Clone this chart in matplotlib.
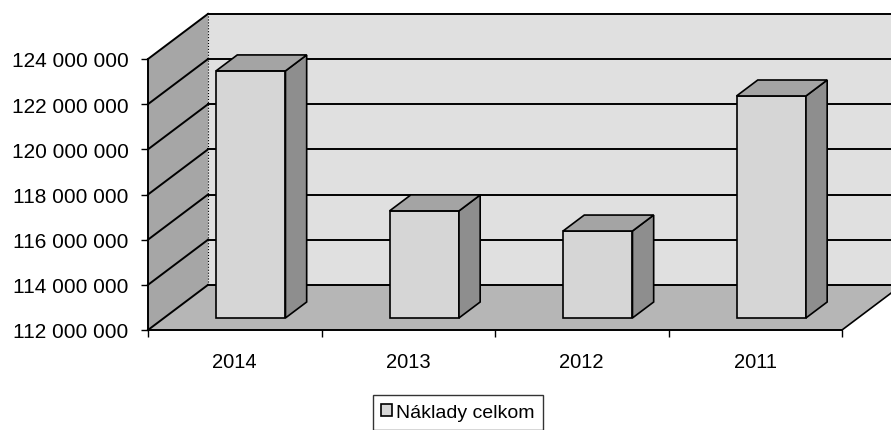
import numpy as np
import matplotlib.pyplot as plt
from matplotlib.patches import Polygon, Patch

plt.rcParams['font.family'] = ['Liberation Sans', 'DejaVu Sans']

# data
years = ['2014', '2013', '2012', '2011']
costs = [122_940_000, 116_740_000, 115_850_000, 121_830_000]
y_ticks = [112_000_000, 114_000_000, 116_000_000, 118_000_000,
           120_000_000, 122_000_000, 124_000_000]
legend_label = 'Náklady celkom'

n = len(years)
ymin, ymax = y_ticks[0], y_ticks[-1]

# fake 3d: depth of the box in data units (x in categories, y in values)
depth_x = 0.346
depth_y = 2_000_000
bar_front = 0.267   # where the bars start in depth (fraction)
bar_back = 0.62
half_w = 0.2

wall_back = '#e0e0e0'
wall_left = '#a6a6a6'
floor_col = '#b6b6b6'
bar_face = '#d6d6d6'
bar_side = '#8e8e8e'
bar_top = '#a4a4a4'

fig = plt.figure(figsize=(8.91, 4.31), dpi=100)
ax = fig.add_axes([148 / 891, 1 - 331 / 431, (842 - 148) / 891, (331 - 60) / 431])
ax.set_xlim(0, n)
ax.set_ylim(ymin, ymax)
ax.patch.set_visible(False)

# walls and floor
back = [(depth_x, ymin + depth_y), (n + depth_x, ymin + depth_y),
        (n + depth_x, ymax + depth_y), (depth_x, ymax + depth_y)]
left = [(0, ymin), (depth_x, ymin + depth_y), (depth_x, ymax + depth_y), (0, ymax)]
floor = [(0, ymin), (n, ymin), (n + depth_x, ymin + depth_y), (depth_x, ymin + depth_y)]
for pts, col in [(back, wall_back), (left, wall_left), (floor, floor_col)]:
    ax.add_patch(Polygon(pts, closed=True, fc=col, ec='none', clip_on=False, zorder=0.5))

# gridlines on back wall and left wall
for v in y_ticks:
    ax.plot([depth_x, n + depth_x], [v + depth_y, v + depth_y], color='black',
            lw=1.4, clip_on=False, zorder=0.8)
    ax.plot([0, depth_x], [v, v + depth_y], color='black', lw=1.4,
            clip_on=False, zorder=0.8)
ax.plot([depth_x, depth_x], [ymin + depth_y, ymax + depth_y], color='black',
        lw=0.8, ls=':', clip_on=False, zorder=0.8)
ax.plot([n, n + depth_x], [ymin, ymin + depth_y], color='black', lw=1.2,
        clip_on=False, zorder=0.8)

# bars
x = np.arange(n) + 0.5
vals = np.array(costs, dtype=float)
fdx = bar_front * depth_x
fdy = bar_front * depth_y
bdx = (bar_back - bar_front) * depth_x
bdy = (bar_back - bar_front) * depth_y
base = ymin + fdy
ax.bar(x + fdx, vals - ymin, bottom=base, width=2 * half_w, color=bar_face,
       edgecolor='black', linewidth=1.2, zorder=3)
for xc, v in zip(x, vals):
    xl = xc + fdx - half_w
    xr = xc + fdx + half_w
    top = v + fdy
    side = [(xr, base), (xr + bdx, base + bdy), (xr + bdx, top + bdy), (xr, top)]
    cap = [(xl, top), (xr, top), (xr + bdx, top + bdy), (xl + bdx, top + bdy)]
    ax.add_patch(Polygon(side, closed=True, fc=bar_side, ec='black', lw=1.2,
                         clip_on=False, zorder=3))
    ax.add_patch(Polygon(cap, closed=True, fc=bar_top, ec='black', lw=1.2,
                         clip_on=False, zorder=3))

# axes
for s in ['top', 'right']:
    ax.spines[s].set_visible(False)
for s in ['left', 'bottom']:
    ax.spines[s].set_linewidth(1.4)
ax.set_yticks(y_ticks)
ax.set_yticklabels([f'{t:,}'.replace(',', ' ') for t in y_ticks])
ax.tick_params(axis='y', length=5, width=1, pad=9, labelsize=15)
ax.set_xticks(np.arange(n + 1))
ax.set_xticklabels([])
ax.set_xticks(x, minor=True)
ax.set_xticklabels(years, minor=True)
ax.tick_params(axis='x', which='major', length=5, width=1, direction='out')
ax.tick_params(axis='x', which='minor', length=0, pad=16, labelsize=14.5)

handle = Patch(fc=bar_face, ec='black', lw=1.2)
fig.legend(handles=[handle], labels=[legend_label], loc='upper center',
           bbox_to_anchor=(458 / 891, 1 - 396 / 431), fontsize=14, frameon=True,
           fancybox=False, edgecolor='black', handlelength=0.55, handleheight=0.55,
           handletextpad=0.2, borderpad=0.45, borderaxespad=0)

plt.savefig('out.png', dpi=100)
